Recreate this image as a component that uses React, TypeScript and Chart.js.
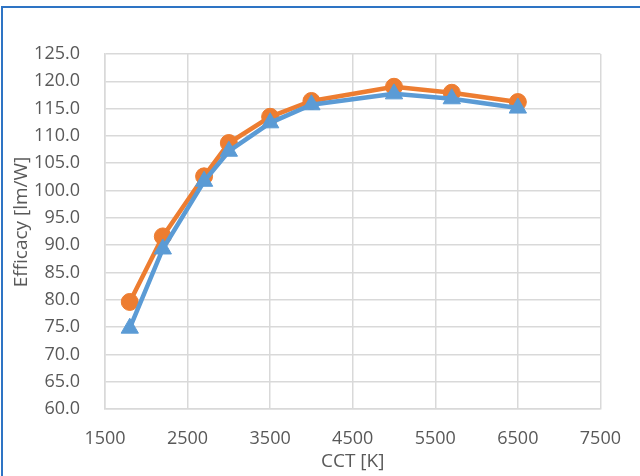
import React, { useEffect, useRef } from "react";
import { Chart, registerables } from "chart.js";

Chart.register(...registerables);

const cctValues = [1800, 2200, 2700, 3000, 3500, 4000, 5000, 5700, 6500];
const orangeEfficacy = [79.6, 91.6, 102.6, 108.7, 113.5, 116.4, 119.0, 117.9, 116.2];
const blueEfficacy = [74.8, 89.3, 101.7, 107.2, 112.4, 115.7, 117.7, 116.8, 115.1];
const xTitle = "CCT [K]";
const yTitle = "Efficacy [lm/W]";

const FONT = "'Open Sans', 'Noto Sans', sans-serif";
const TEXT = "#595959";
const GRID = "#D9D9D9";

const titlePlugin = {
  id: "axisTitles",
  afterDraw(chart: any) {
    const { ctx, chartArea } = chart;
    ctx.save();
    ctx.fillStyle = TEXT;
    ctx.font = `19px ${FONT}`;
    ctx.textAlign = "center";
    ctx.textBaseline = "middle";
    ctx.fillText(xTitle, (chartArea.left + chartArea.right) / 2, 462);
    ctx.translate(22, 222);
    ctx.rotate(-Math.PI / 2);
    ctx.fillText(yTitle, 0, 0);
    ctx.restore();
  },
};

export default function App() {
  const ref = useRef<HTMLCanvasElement | null>(null);
  useEffect(() => {
    if (!ref.current) return;
    const chart = new Chart(ref.current, {
      type: "line",
      data: {
        datasets: [
          {
            label: "B",
            data: cctValues.map((x, i) => ({ x, y: blueEfficacy[i] })),
            borderColor: "#5B9BD5",
            backgroundColor: "#5B9BD5",
            borderWidth: 4.5,
            pointStyle: "triangle",
            pointRadius: 10,
            pointBorderWidth: 1,
            pointBackgroundColor: "#5B9BD5",
            pointBorderColor: "#5B9BD5",
            tension: 0,
          },
          {
            label: "A",
            data: cctValues.map((x, i) => ({ x, y: orangeEfficacy[i] })),
            borderColor: "#ED7D31",
            backgroundColor: "#ED7D31",
            borderWidth: 4.5,
            pointStyle: "circle",
            pointRadius: 8.5,
            pointBorderWidth: 1,
            pointBackgroundColor: "#ED7D31",
            pointBorderColor: "#ED7D31",
            tension: 0,
          },
        ],
      },
      options: {
        animation: false,
        responsive: false,
        maintainAspectRatio: false,
        layout: { padding: { left: 0, top: 54, right: 36, bottom: 0 } },
        plugins: { legend: { display: false }, tooltip: { enabled: false } },
        scales: {
          x: {
            type: "linear",
            min: 1500,
            max: 7500,
            afterFit: (s: any) => {
              s.height = 67;
            },
            ticks: {
              stepSize: 1000,
              color: TEXT,
              font: { family: FONT, size: 18 },
              padding: 19,
              maxRotation: 0,
              callback: (v: any) => String(v),
            },
            grid: { color: GRID, lineWidth: 1.5, drawTicks: false },
            border: { display: true, color: GRID, width: 1.5 },
          },
          y: {
            type: "linear",
            min: 60,
            max: 125,
            afterFit: (s: any) => {
              s.width = 105;
            },
            ticks: {
              stepSize: 5,
              color: TEXT,
              font: { family: FONT, size: 18 },
              padding: 25,
              callback: (v: any) => Number(v).toFixed(1),
            },
            grid: { color: GRID, lineWidth: 1.5, drawTicks: false },
            border: { display: true, color: GRID, width: 1.5 },
          },
        },
      },
      plugins: [titlePlugin],
    });
    return () => chart.destroy();
  }, []);

  return (
    <div
      style={{
        position: "fixed",
        left: 0,
        top: 0,
        width: 640,
        height: 476,
        overflow: "hidden",
        background: "#ffffff",
      }}
    >
      <canvas ref={ref} width={640} height={476} style={{ position: "absolute", left: 0, top: 0, width: 640, height: 476 }} />
      <div
        style={{
          position: "absolute",
          left: 1,
          top: 6,
          width: 700,
          height: 600,
          border: "2px solid #2E74C4",
          pointerEvents: "none",
        }}
      />
    </div>
  );
}
